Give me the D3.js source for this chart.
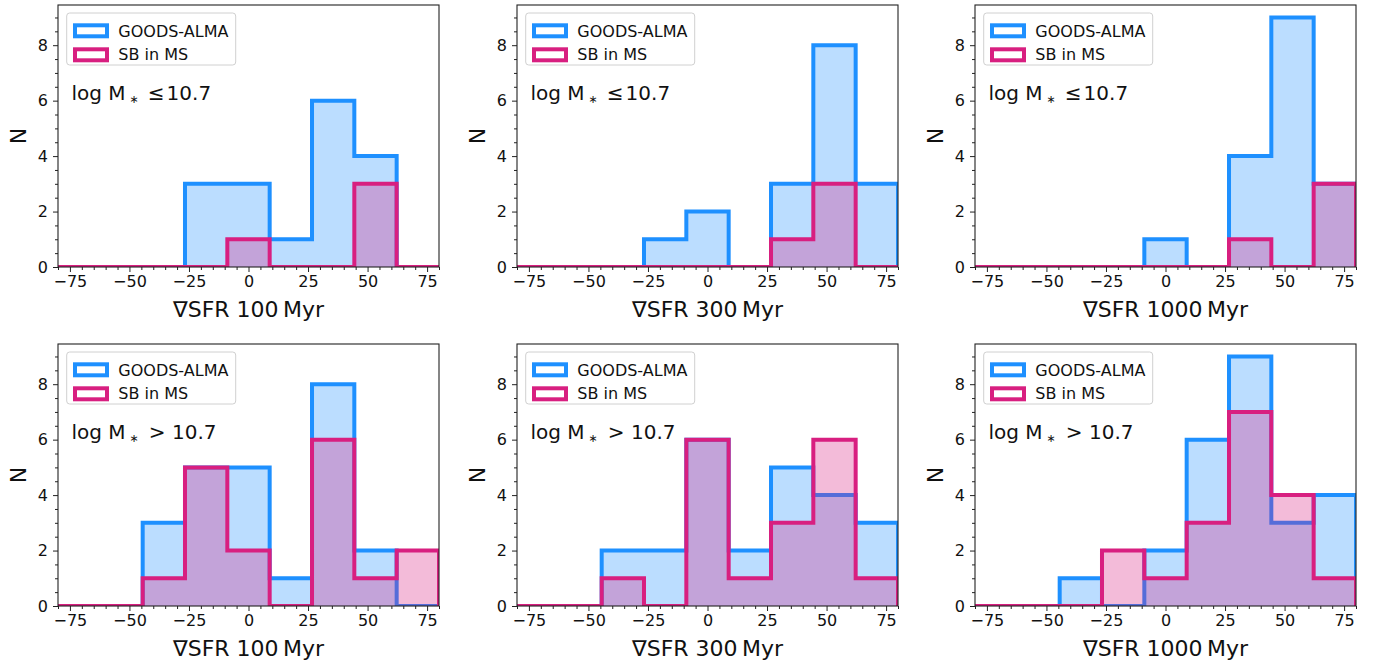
<!DOCTYPE html>
<html>
<head>
<meta charset="utf-8">
<script src="https://cdn.jsdelivr.net/npm/d3@7"></script>
<style>
    body { margin: 0; background: white; }
    text { font-family: "DejaVu Sans", sans-serif; }
</style>
</head>
<body>
<div id="space"></div>
<script>

// Bin edges shared by every panel
var bin_edges = [-80, -62.22, -44.44, -26.67, -8.89, 8.89, 26.67, 44.44, 62.22, 80];

// Counts per bin
var goods_100_low = [0, 0, 0, 3, 3, 1, 6, 4, 0];
var sb_100_low = [0, 0, 0, 0, 1, 0, 0, 3, 0];
var goods_300_low = [0, 0, 0, 1, 2, 0, 3, 8, 3];
var sb_300_low = [0, 0, 0, 0, 0, 0, 1, 3, 0];
var goods_1000_low = [0, 0, 0, 0, 1, 0, 4, 9, 3];
var sb_1000_low = [0, 0, 0, 0, 0, 0, 1, 0, 3];

var goods_100_high = [0, 0, 3, 5, 5, 1, 8, 2, 0];
var sb_100_high = [0, 0, 1, 5, 2, 0, 6, 1, 2];
var goods_300_high = [0, 0, 2, 2, 6, 2, 5, 4, 3];
var sb_300_high = [0, 0, 1, 0, 6, 1, 3, 6, 1];
var goods_1000_high = [0, 0, 1, 0, 2, 6, 9, 3, 4];
var sb_1000_high = [0, 0, 0, 2, 1, 3, 7, 4, 1];

var x_ticks = [-75, -50, -25, 0, 25, 50, 75];
var y_ticks = [0, 2, 4, 6, 8];
var timescales = ["100", "300", "1000"];
var series_names = ["GOODS-ALMA", "SB in MS"];

var x_domain = [-80, 80];
var y_domain = [0, 9.45];

var BLUE = "#1e90ff", PINK = "#d81f80";

var svg;

init();

function init() {
    svg = d3.select("#space").append("svg")
        .attr("xmlns", "http://www.w3.org/2000/svg")
        .attr("width", 1378)
        .attr("height", 664);

    var lefts = [58, 517, 975];
    var tops = [5, 344];
    var w = 381, h = 262;

    var rows = [
        { sign: "\u2264", sets: [[goods_100_low, sb_100_low], [goods_300_low, sb_300_low], [goods_1000_low, sb_1000_low]] },
        { sign: ">", sets: [[goods_100_high, sb_100_high], [goods_300_high, sb_300_high], [goods_1000_high, sb_1000_high]] }
    ];

    for (var r = 0; r < rows.length; r++) {
        for (var c = 0; c < 3; c++) {
            drawPanel(lefts[c], tops[r], w, h, rows[r].sets[c][0], rows[r].sets[c][1],
                timescales[c], rows[r].sign, "p" + r + c);
        }
    }
}

function stepPoints(counts) {
    var pts = [[bin_edges[0], 0]];
    for (var i = 0; i < counts.length; i++) {
        pts.push([bin_edges[i], counts[i]]);
        pts.push([bin_edges[i + 1], counts[i]]);
    }
    pts.push([bin_edges[bin_edges.length - 1], 0]);
    return pts;
}

function drawPanel(x0, y0, w, h, goods, sb, scale_label, sign, id) {
    var x = d3.scaleLinear().domain(x_domain).range([0, w]);
    var y = d3.scaleLinear().domain(y_domain).range([h, 0]);

    var g = svg.append("g").attr("transform", "translate(" + x0 + "," + y0 + ")");

    g.append("clipPath").attr("id", "clip_" + id)
        .append("rect").attr("width", w).attr("height", h);

    var line = d3.line().x(function (d) { return x(d[0]); }).y(function (d) { return y(d[1]); });

    var plot = g.append("g").attr("clip-path", "url(#clip_" + id + ")");

    //Filled histogram first, outline on top, SB over GOODS
    var hists = [[goods, BLUE], [sb, PINK]];
    for (var i = 0; i < hists.length; i++) {
        var pts = stepPoints(hists[i][0]);
        plot.append("path")
            .attr("d", line(pts) + "Z")
            .attr("fill", hists[i][1])
            .attr("fill-opacity", 0.3)
            .attr("stroke", "none");
        plot.append("path")
            .attr("d", line(pts))
            .attr("fill", "none")
            .attr("stroke", hists[i][1])
            .attr("stroke-width", 4)
            .attr("stroke-linejoin", "miter");
    }

    //Axes
    var x_axis = d3.axisBottom(x).tickValues(x_ticks).tickSize(5).tickPadding(4)
        .tickFormat(function (d) { return d < 0 ? "\u2212" + Math.abs(d) : d; });
    var x_minor = d3.axisBottom(x).tickValues(d3.range(-80, 81, 5).filter(function (v) { return x_ticks.indexOf(v) < 0; }))
        .tickSize(3).tickFormat("");
    var y_axis = d3.axisLeft(y).tickValues(y_ticks).tickSize(5).tickPadding(5);
    var y_minor = d3.axisLeft(y).tickValues(d3.range(0, 9.4, 0.5).filter(function (v) { return v % 2 != 0; }))
        .tickSize(3).tickFormat("");

    var ax_list = [
        g.append("g").attr("transform", "translate(0," + h + ")").call(x_axis),
        g.append("g").attr("transform", "translate(0," + h + ")").call(x_minor),
        g.append("g").call(y_axis),
        g.append("g").call(y_minor)
    ];
    for (var k = 0; k < ax_list.length; k++) {
        ax_list[k].select(".domain").remove();
        ax_list[k].selectAll("line").attr("stroke", "#222").attr("stroke-width", 1);
        ax_list[k].selectAll("text")
            .attr("font-family", "DejaVu Sans")
            .attr("font-size", 16)
            .attr("fill", "#111");
    }

    //Frame
    g.append("rect")
        .attr("x", 0).attr("y", 0).attr("width", w).attr("height", h)
        .attr("fill", "none").attr("stroke", "#222").attr("stroke-width", 1.1);

    //Axis labels
    g.append("text")
        .attr("x", w / 2).attr("y", h + 50)
        .attr("text-anchor", "middle")
        .attr("font-size", 22)
        .attr("fill", "#111")
        .text("\u2207SFR " + scale_label + "\u2009Myr");

    g.append("text")
        .attr("transform", "translate(-32," + (h / 2) + ") rotate(-90)")
        .attr("text-anchor", "middle")
        .attr("font-size", 22)
        .attr("fill", "#111")
        .text("N");

    //Mass annotation
    var note = g.append("text")
        .attr("x", 13.5).attr("y", 95)
        .attr("font-size", 20)
        .attr("fill", "#111");
    note.append("tspan").text("log M");
    note.append("tspan").attr("font-size", 11).attr("dx", 4).attr("dy", 3).text("\u2217");
    if (sign == "\u2264")
        note.append("tspan").attr("dy", -3).attr("dx", 9).text("\u2264\u200a10.7");
    else
        note.append("tspan").attr("dy", -3).attr("dx", 10).text("> 10.7");

    //Legend
    var leg = g.append("g").attr("transform", "translate(8.7,8)");
    leg.append("rect")
        .attr("width", 169).attr("height", 52)
        .attr("rx", 3).attr("ry", 3)
        .attr("fill", "white").attr("fill-opacity", 0.8)
        .attr("stroke", "#d0d0d0").attr("stroke-width", 1);
    var colors = [BLUE, PINK];
    for (var j = 0; j < series_names.length; j++) {
        leg.append("rect")
            .attr("x", 8.3).attr("y", 12.3 + 24 * j)
            .attr("width", 32).attr("height", 11)
            .attr("fill", "white")
            .attr("stroke", colors[j]).attr("stroke-width", 4);
        leg.append("text")
            .attr("x", 51.6).attr("y", 23.7 + 23.6 * j)
            .attr("font-size", 16)
            .attr("fill", "#111")
            .text(series_names[j]);
    }
}

</script>
</body>
</html>
